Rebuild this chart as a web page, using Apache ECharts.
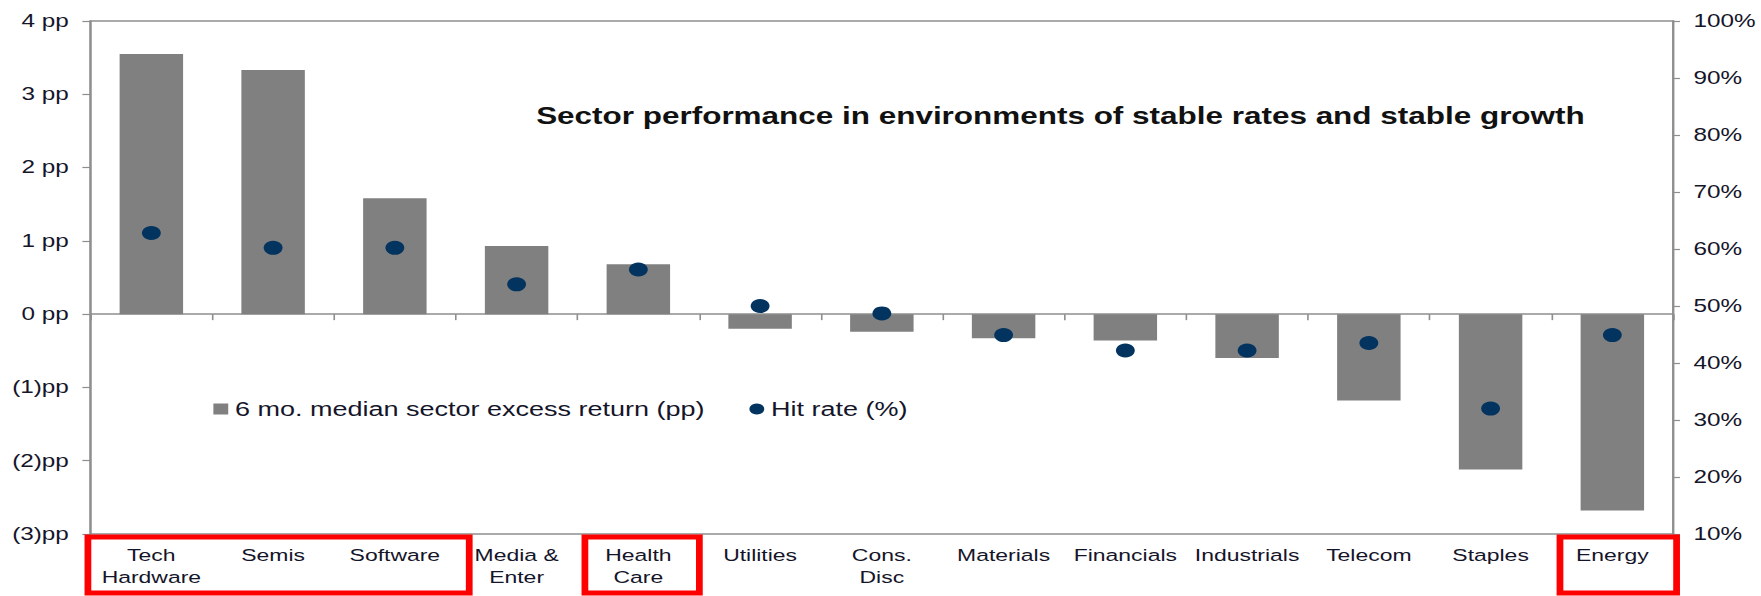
<!DOCTYPE html>
<html>
<head>
<meta charset="utf-8">
<script src="https://cdn.jsdelivr.net/npm/echarts@6/dist/echarts.min.js"></script>
<style>
  html, body { margin: 0; padding: 0; background: #fff; overflow: hidden; }
  #main { width: 1304px; height: 596px; transform: scaleX(1.35046); transform-origin: 0 0; }
</style>
</head>
<body>
<div id="main"></div>
<script>
// ---- data ----
const categories = ['Tech\nHardware', 'Semis', 'Software', 'Media &\nEnter', 'Health\nCare', 'Utilities',
  'Cons.\nDisc', 'Materials', 'Financials', 'Industrials', 'Telecom', 'Staples', 'Energy'];
const excessReturn = [3.55, 3.33, 1.58, 0.93, 0.68, -0.20, -0.24, -0.33, -0.36, -0.60, -1.18, -2.12, -2.68];
const hitRate = [62.8, 60.2, 60.2, 53.8, 56.4, 50.0, 48.7, 44.9, 42.2, 42.2, 43.5, 32.0, 44.9];
const leftAxisRange = [-3, 4, 1];
const rightAxisRange = [10, 100, 10];
const seriesNames = ['6 mo. median sector excess return (pp)', 'Hit rate (%)'];
const titleText = 'Sector performance in environments of stable rates and stable growth';
// highlighted category groups [firstIndex, lastIndex]
const highlightGroups = [[0, 2], [4, 4], [12, 12]];

const axisGray = '#8e8e8e';
const textColor = '#15152a';

const chart = echarts.init(document.getElementById('main'), null, { renderer: 'svg' });

chart.setOption({
  animation: false,
  backgroundColor: '#fff',
  title: {
    text: titleText,
    left: 397, top: 104, padding: 0,
    textStyle: { fontFamily: 'Liberation Sans, Arial', fontWeight: 'bold', fontSize: 23.3, color: '#111' }
  },
  legend: {
    left: 158, top: 398, padding: 0,
    itemWidth: 11, itemHeight: 11, itemGap: 33,
    textStyle: { fontFamily: 'Liberation Sans, Arial', fontSize: 20, color: textColor, lineHeight: 22 },
    data: [{ name: seriesNames[0], icon: 'rect' }, { name: seriesNames[1], icon: 'circle' }]
  },
  grid: {
    left: 67, right: 65, top: 21, bottom: 62,
    show: true, borderColor: axisGray, borderWidth: 1.5, backgroundColor: 'transparent'
  },
  xAxis: [
    {
      type: 'category', data: categories, position: 'bottom',
      axisLine: { onZero: true, onZeroAxisIndex: 0, lineStyle: { color: axisGray, width: 1.5 } },
      axisTick: { show: true, length: 6, lineStyle: { color: axisGray, width: 1.2 } },
      axisLabel: { show: false }
    },
    {
      type: 'category', data: categories, position: 'bottom',
      axisLine: { show: false, onZero: false }, axisTick: { show: false },
      axisLabel: { margin: 10, fontFamily: 'Liberation Sans, Arial', fontSize: 17, lineHeight: 22, color: textColor, interval: 0 }
    }
  ],
  yAxis: [
    {
      type: 'value', min: leftAxisRange[0], max: leftAxisRange[1], interval: leftAxisRange[2],
      position: 'left',
      axisLine: { show: true, lineStyle: { color: axisGray, width: 1.5 } },
      axisTick: { show: true, length: 6, lineStyle: { color: axisGray, width: 1.2 } },
      splitLine: { show: false },
      axisLabel: {
        margin: 16, fontFamily: 'Liberation Sans, Arial', fontSize: 18, color: textColor,
        formatter: v => v < 0 ? '(' + (-v) + ')pp' : v + ' pp'
      }
    },
    {
      type: 'value', min: rightAxisRange[0], max: rightAxisRange[1], interval: rightAxisRange[2],
      position: 'right',
      axisLine: { show: true, lineStyle: { color: axisGray, width: 1.5 } },
      axisTick: { show: true, length: 5, lineStyle: { color: axisGray, width: 1.2 } },
      splitLine: { show: false },
      axisLabel: {
        margin: 15, fontFamily: 'Liberation Sans, Arial', fontSize: 18, color: textColor,
        formatter: '{value}%'
      }
    }
  ],
  series: [
    {
      name: seriesNames[0], type: 'bar', xAxisIndex: 0, yAxisIndex: 0,
      data: excessReturn, barWidth: 47,
      itemStyle: { color: '#808080' }
    },
    {
      name: seriesNames[1], type: 'scatter', xAxisIndex: 0, yAxisIndex: 1,
      data: hitRate, symbol: 'circle', symbolSize: 14,
      itemStyle: { color: '#03335f', opacity: 1 }, z: 5
    }
  ]
});

// red highlight boxes around category labels, positioned from the category axis scale
(function drawBoxes() {
  const c0 = chart.convertToPixel({ xAxisIndex: 0 }, 0);
  const c1 = chart.convertToPixel({ xAxisIndex: 0 }, 1);
  const band = c1 - c0;
  const yTop = chart.convertToPixel({ yAxisIndex: 0 }, leftAxisRange[0]);
  const H = chart.getHeight();
  const lw = 5;
  const pads = [[-4.4, 12.5], [3, 2.6], [3.8, 5]];
  const elements = highlightGroups.map((g, k) => {
    const left = chart.convertToPixel({ xAxisIndex: 0 }, g[0]) - band / 2 + pads[k][0];
    const right = chart.convertToPixel({ xAxisIndex: 0 }, g[1]) + band / 2 + pads[k][1];
    return {
      type: 'rect', silent: true, z: 100,
      shape: { x: left + lw / 2, y: yTop + 3, width: right - left - lw, height: H - yTop - 6 },
      style: { fill: 'none', stroke: '#ff0000', lineWidth: lw }
    };
  });
  chart.setOption({ graphic: elements });
})();
</script>
</body>
</html>
